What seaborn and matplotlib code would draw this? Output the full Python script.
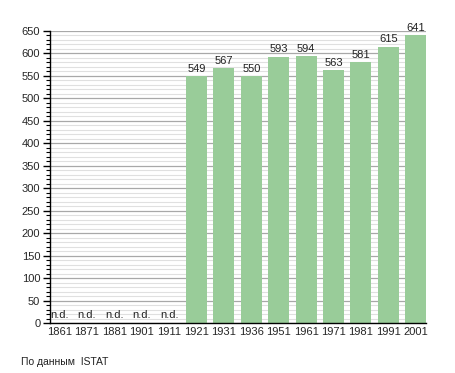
import matplotlib
matplotlib.use("Agg")
import matplotlib.pyplot as plt
import seaborn as sns
import pandas as pd
import numpy as np
from matplotlib.ticker import MultipleLocator

years = ["1861", "1871", "1881", "1901", "1911", "1921", "1931", "1936",
         "1951", "1961", "1971", "1981", "1991", "2001"]
population = [None, None, None, None, None, 549, 567, 550,
              593, 594, 563, 581, 615, 641]
y_ticks = [0, 50, 100, 150, 200, 250, 300, 350, 400, 450, 500, 550, 600, 650]
source_text = "По данным  ISTAT"
missing_label = "n.d."

sns.set_style("white")
plt.rcParams['font.family'] = ['Liberation Sans', 'DejaVu Sans']

df = pd.DataFrame({"year": years,
                   "pop": [np.nan if v is None else v for v in population]})

fig = plt.figure(figsize=(4.55, 3.73), dpi=100)
ax = fig.add_axes([50/455, 1-323/373, (426-50)/455, (323-31)/373])

ax.set_ylim(0, 650)
ax.yaxis.set_major_locator(MultipleLocator(50))
ax.yaxis.set_minor_locator(MultipleLocator(10))
ax.grid(True, which='minor', axis='y', color='#e0e0e0', linewidth=0.8, zorder=0)
ax.grid(True, which='major', axis='y', color='#a8a8a8', linewidth=0.9, zorder=0)
ax.set_axisbelow(True)

sns.barplot(data=df, x="year", y="pop", color="#99cc99", saturation=1,
            width=0.77, ax=ax, zorder=2, edgecolor='none')
ax.set_xlim(-0.35, 13.38)
ax.set_ylim(0, 650)

for i, v in enumerate(population):
    if v is None:
        ax.text(i, 6, missing_label, ha='center', va='bottom', fontsize=8, color='#222222')
    else:
        ax.text(i, v + 5, str(v), ha='center', va='bottom', fontsize=8, color='#222222')

ax.set_yticks(y_ticks)
ax.set_yticklabels([str(t) for t in y_ticks])
ax.set_xlabel("")
ax.set_ylabel("")
for s in ["top", "right"]:
    ax.spines[s].set_visible(False)
for s in ["left", "bottom"]:
    ax.spines[s].set_color('black')
    ax.spines[s].set_linewidth(1.0)
ax.tick_params(axis='y', which='major', length=5, width=1, color='black',
               labelsize=8, left=True, pad=2)
ax.tick_params(axis='y', which='minor', length=3, width=0.8, color='black', left=True)
ax.tick_params(axis='x', which='both', length=0, labelsize=8, pad=3)

fig.text(21/455, 1-362/373, source_text, fontsize=7.5, ha='left', va='center', color='#222222')

fig.savefig("out.png", dpi=100, facecolor='white')
